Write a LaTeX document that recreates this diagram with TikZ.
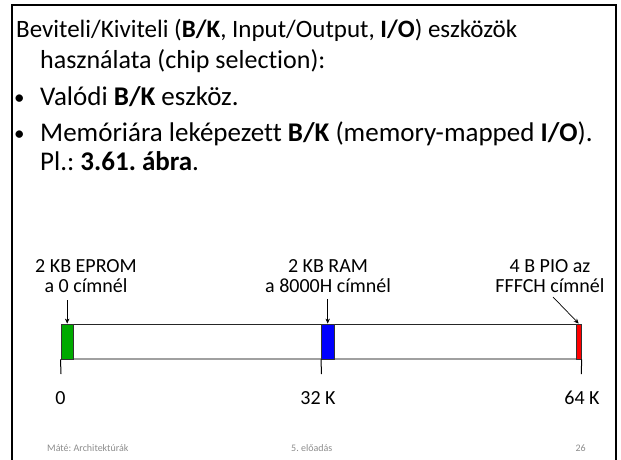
\documentclass[tikz,border=0pt]{standalone}
\usepackage{fontspec}
\setmainfont{Carlito}[Ligatures={NoCommon}]
\usetikzlibrary{arrows.meta}
\definecolor{memgreen}{RGB}{0,170,0}
\definecolor{memblue}{RGB}{0,0,255}
\definecolor{memred}{RGB}{255,0,0}
\definecolor{footgray}{RGB}{140,140,140}
\definecolor{bargray}{RGB}{160,160,160}
\frenchspacing
\begin{document}
\begin{tikzpicture}[x=1pt,y=-1pt,
  body/.style={font=\fontsize{25}{30}\selectfont, inner sep=0pt, anchor=base west},
  bbody/.style={font=\fontsize{27}{32}\selectfont, inner sep=0pt, anchor=base west},
  bul/.style={font=\fontsize{21}{25}\selectfont, inner sep=0pt, anchor=base west},
  lab/.style={font=\fontsize{20}{20}\selectfont, inner sep=0pt, anchor=base, align=center},
  foot/.style={font=\fontsize{10}{12}\selectfont, text=footgray, inner sep=0pt},
  blk/.style={draw=black!80, line width=0.9pt, minimum height=35pt, inner sep=0pt},
  arr/.style={-{Stealth[length=5pt,width=4.5pt]}, line width=0.7pt},
  tick/.style={line width=1pt}]
\useasboundingbox (0,0) rectangle (621,459);
\begin{scope}
\clip (0,0) rectangle (621,459);
\draw[line width=2pt] (12,470) -- (12,5) -- (615.5,5) -- (615.5,470);
\end{scope}
% body text
\node[body] (t1) at (16,37) {Beviteli/Kiviteli (\textbf{B/K}, Input/Output, \textbf{I/O}) eszközök};
\node[body, font=\fontsize{26}{30}\selectfont] (t2) at (40,68) {használata (chip selection):};
\node[bul] (b1) at (14,104) {•};
\node[bbody] (t3) at (40,105) {Valódi \textbf{B/K} eszköz.};
\node[bul] (b2) at (14,140) {•};
\node[bbody] (t4) at (40,141) {Memóriára leképezett \textbf{B/K} (memory-mapped \textbf{I/O}).};
\node[bbody] (t5) at (40,170) {Pl.: \textbf{3.61. ábra}.};
% labels
\node[lab] (leprom) at (86,292) {2 KB EPROM\\a 0 címnél};
\node[lab] (lram) at (328,292) {2 KB RAM\\a 8000H címnél};
\node[lab] (lpio) at (550,292) {4 B PIO az\\FFFCH címnél};
% bar
\coordinate (bl) at (61,324);
\coordinate (br) at (581,324);
\coordinate (bbl) at (61,359);
\coordinate (bbr) at (581,359);
\draw[line width=1pt, black!85] (bl) -- (br);
\draw[line width=1.2pt, bargray] (bbl) -- (bbr);
\node[blk, fill=memgreen, minimum width=12.5pt] (g) at (67.2,341.5) {};
\node[blk, fill=memblue, minimum width=12.5pt] (bu) at (327.7,341.5) {};
\node[blk, fill=memred, minimum width=5pt] (r) at (578.7,341.5) {};
% arrows
\coordinate (ga) at (67.2,300);
\coordinate (ba) at (327.7,299);
\coordinate (ra) at (553,297);
\draw[arr] (ga) -- (g.north);
\draw[arr] (ba) -- (bu.north);
\draw[arr] (ra) -- (r.north);
% ticks
\coordinate (k0) at (61,374);
\coordinate (k32) at (321.5,374);
\coordinate (k64) at (581.3,374);
\draw[tick] (g.south west) -- (k0);
\draw[tick] (bu.south west) -- (k32);
\draw[tick] (r.south east) -- (k64);
\node[lab] (n0) at (60.5,404) {0};
\node[lab] (n32) at (318,404) {32 K};
\node[lab] (n64) at (582,404) {64 K};
% footer
\node[foot, anchor=base west] (f1) at (47,451) {Máté: Architektúrák};
\node[foot, anchor=base west] (f2) at (291,451) {5. előadás};
\node[foot, anchor=base east] (f3) at (586,451) {26};
\end{tikzpicture}
\end{document}
